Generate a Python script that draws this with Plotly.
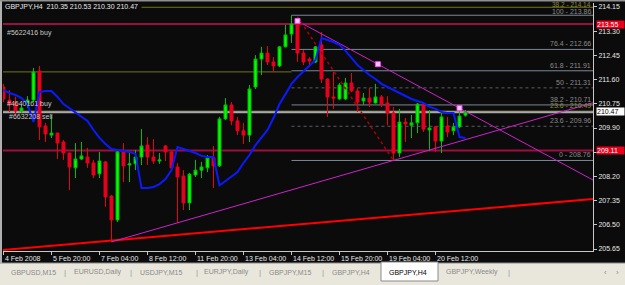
import plotly.graph_objects as go

W, H = 625, 285

# ---------------- data ----------------
bars = list(range(78))
opens = [211.34, 210.88, 210.78, 210.50, 210.74, 210.88, 211.90, 209.97, 209.65, 209.72,
         209.41, 209.02, 208.50, 208.81, 208.88, 208.67, 208.29, 208.71, 207.51, 206.67,
         209.06, 208.60, 208.64, 208.88, 209.30, 208.88, 208.74, 209.27, 209.06, 208.53,
         208.21, 207.27, 208.25, 208.42, 208.50, 208.85, 208.57, 210.22, 210.71, 210.15,
         209.80, 209.65, 211.34, 212.32, 212.53, 212.22, 212.08, 212.75, 213.20, 213.59,
         212.53, 212.32, 212.22, 212.82, 211.62, 210.99, 210.92, 210.92, 211.48, 211.20,
         210.85, 210.95, 210.78, 210.99, 210.78, 210.43, 209.02, 210.11, 210.00, 210.08,
         210.74, 209.83, 209.94, 209.44, 209.97, 209.80, 209.94, 210.35]
highs = [211.45, 211.23, 211.00, 210.74, 211.02, 212.01, 212.08, 210.08, 210.36, 209.74,
         209.48, 209.04, 209.37, 209.41, 209.20, 208.78, 209.06, 208.73, 207.55, 209.13,
         209.37, 209.02, 209.13, 209.86, 209.58, 209.51, 209.02, 209.30, 209.08, 208.67,
         208.42, 208.32, 208.78, 208.71, 208.95, 209.27, 210.29, 210.95, 210.81, 210.29,
         210.08, 211.41, 212.46, 212.75, 212.78, 212.39, 212.78, 213.52, 213.86, 213.73,
         212.64, 212.39, 212.78, 213.27, 211.64, 211.87, 211.48, 211.66, 211.83, 211.30,
         211.13, 211.30, 211.45, 211.06, 211.02, 210.64, 210.57, 210.25, 210.36, 210.78,
         210.78, 210.53, 209.96, 210.43, 210.29, 210.08, 210.64, 210.53]
lows = [210.81, 210.46, 210.32, 210.43, 210.60, 210.81, 209.48, 209.41, 209.55, 208.81,
        208.78, 207.72, 208.14, 208.78, 208.50, 208.14, 208.14, 207.13, 205.90, 206.60,
        208.00, 208.00, 208.42, 208.60, 208.60, 208.64, 208.64, 208.74, 208.42, 206.56,
        207.02, 207.02, 208.18, 208.14, 208.35, 207.79, 208.53, 210.18, 210.00, 209.65,
        209.34, 209.41, 211.27, 211.76, 212.11, 211.87, 212.04, 212.73, 212.89, 212.22,
        212.11, 212.11, 212.18, 211.48, 210.29, 210.57, 210.88, 210.88, 211.16, 210.46,
        210.71, 210.64, 210.76, 210.64, 210.00, 208.76, 208.88, 209.41, 209.55, 209.72,
        209.76, 209.09, 209.06, 209.02, 209.58, 209.65, 209.90, 210.30]
closes = [210.92, 210.71, 210.50, 210.60, 210.88, 211.87, 209.94, 209.69, 209.72, 209.37,
          209.02, 208.53, 208.81, 208.92, 208.67, 208.25, 208.74, 207.48, 206.67, 209.06,
          208.57, 208.64, 208.88, 209.27, 208.88, 208.74, 208.78, 209.06, 208.50, 208.18,
          207.27, 208.28, 208.42, 208.53, 208.85, 208.57, 210.22, 210.71, 210.15, 209.80,
          209.65, 211.27, 212.32, 212.53, 212.22, 212.08, 212.75, 213.17, 213.55, 212.53,
          212.22, 212.25, 212.75, 211.62, 210.99, 210.95, 211.41, 211.48, 211.20, 210.81,
          210.95, 210.81, 210.99, 210.74, 210.43, 209.02, 210.11, 210.04, 210.08, 210.74,
          209.86, 209.90, 209.44, 210.29, 209.76, 209.94, 210.32, 210.47]
ma_values = [211.23, 211.13, 211.06, 210.95, 210.74, 210.11, 211.16, 211.20, 211.20, 210.99,
             210.74, 210.60, 210.46, 210.32, 210.15, 209.83, 209.55, 209.34, 209.16, 209.13,
             209.09, 209.06, 208.99, 207.79, 207.79, 207.83, 207.93, 208.11, 208.42, 209.23,
             209.16, 209.09, 209.02, 208.92, 208.88, 208.88, 207.89, 208.04, 208.18, 208.35,
             208.67, 208.95, 209.30, 209.55, 209.83, 210.25, 210.74, 211.09, 211.45, 211.69,
             211.90, 212.08, 212.29, 213.06, 212.99, 212.92, 212.82, 212.61, 212.36, 212.11,
             211.94, 211.76, 211.62, 211.45, 211.34, 211.23, 211.13, 211.02, 210.92, 210.85,
             210.78, 210.64, 210.57, 210.46, 210.43, 210.43, 209.58, 209.55]

time_tick_bars = [0, 8, 16, 24, 32, 40, 48, 56, 64, 72]
time_tick_labels = ["4 Feb 2008", "5 Feb 20:00", "7 Feb 04:00", "8 Feb 12:00", "11 Feb 20:00",
                    "13 Feb 04:00", "14 Feb 12:00", "15 Feb 20:00", "19 Feb 04:00", "20 Feb 12:00"]
price_ticks = [205.65, 206.50, 207.35, 208.20, 209.05, 209.90, 210.75, 211.60, 212.45, 213.30, 214.15]
hidden_ticks = [209.05]   # covered by the 209.11 order box in the reference

fib_levels = ["100", "76.4", "61.8", "50", "38.2", "23.6", "0"]
fib_prices = [213.86, 212.66, 211.91, 211.31, 210.71, 209.96, 208.76]
fib_dotted = [False, False, False, True, False, True, False]
fib_start_bar = 48
fib_diag_bars = [49, 65]
fib_diag_prices = [213.80, 208.76]

olive_levels = ["38.2", "23.6"]
olive_prices = [214.14, 210.49]
olive_mid_price = 211.87

order_lines = [213.55, 209.11]
bid_price = 210.47

res_k = [49, 62.4]; res_p = [213.66, 212.14]      # falling trend line anchors
sup_k = [18, 59.4]; sup_p = [205.90, 208.42]      # rising trend line anchors
red_k = [0, 98]; red_p = [205.62, 207.40]         # long red trend line anchors

orders = [("#5622416 buy", 213.24, 0.3), ("#4640161 buy", 210.76, 0.3), ("#6632208 sell", 210.29, 0.6)]

tabs = [("GBPUSD,M15", 10), ("EURUSD,Daily", 73), ("USDJPY,M15", 139), ("EURJPY,Daily", 203),
        ("GBPJPY,M15", 268), ("GBPJPY,H4", 331), ("GBPJPY,Weekly", 445)]
active_tab = ("GBPJPY,H4", 388)
tab_seps = [65, 131, 197, 260, 323, 509]

# ---------------- layout geometry ----------------
X0, X1 = -0.083, 98.25
Y0, Y1 = 205.58, 214.29
FONT = "Liberation Sans"
BG = "#0b0b0b"


def line_at(ks, ps, k):
    slope = (ps[1] - ps[0]) / (ks[1] - ks[0])
    return ps[0] + slope * (k - ks[0])


fig = go.Figure()

shapes = []
shapes.append(dict(type="line", xref="x", yref="y", x0=23, x1=X1, y0=olive_prices[0], y1=olive_prices[0],
                   line=dict(color="#74741c", width=1), layer="below"))
shapes.append(dict(type="line", xref="x", yref="y", x0=X0, x1=fib_start_bar, y0=olive_mid_price, y1=olive_mid_price,
                   line=dict(color="#74741c", width=1), layer="below"))
for lp in order_lines:
    shapes.append(dict(type="line", xref="x domain", yref="y", x0=0, x1=1, y0=lp, y1=lp,
                       line=dict(color="#9a1040", width=2), layer="below"))
shapes.append(dict(type="line", xref="x domain", yref="y", x0=0, x1=1, y0=olive_prices[1], y1=olive_prices[1],
                   line=dict(color="#8c8c50", width=1), layer="below"))
shapes.append(dict(type="line", xref="x domain", yref="y", x0=0, x1=1, y0=bid_price - 0.02, y1=bid_price - 0.02,
                   line=dict(color="#a8a8a8", width=2), layer="below"))
for fp, dot in zip(fib_prices, fib_dotted):
    shapes.append(dict(type="line", xref="x", yref="y", x0=fib_start_bar, x1=X1, y0=fp, y1=fp,
                       line=dict(color="#5c5c66" if dot else "#7d8896", width=1, dash="dot" if dot else "solid"),
                       layer="below"))
# tab bar
shapes.append(dict(type="rect", xref="paper", yref="paper", x0=0, x1=1, y0=0, y1=22 / H,
                   fillcolor="#e9e7dc", line=dict(width=0), layer="above"))
shapes.append(dict(type="line", xref="paper", yref="paper", x0=0, x1=1, y0=22 / H, y1=22 / H,
                   line=dict(color="#8a8a8a", width=1)))
shapes.append(dict(type="rect", xref="paper", yref="paper", x0=381 / W, x1=438 / W, y0=4 / H, y1=23 / H,
                   fillcolor="#ffffff", line=dict(color="#8a8a8a", width=1)))
# window border
shapes.append(dict(type="rect", xref="paper", yref="paper", x0=0, x1=2 / W, y0=22 / H, y1=1,
                   fillcolor="#b0b0b0", line=dict(width=0)))
shapes.append(dict(type="rect", xref="paper", yref="paper", x0=0, x1=1, y0=1 - 1.5 / H, y1=1,
                   fillcolor="#909090", line=dict(width=0)))

fig.add_trace(go.Candlestick(
    x=bars, open=opens, high=highs, low=lows, close=closes,
    increasing=dict(line=dict(color="#00c000", width=1), fillcolor="#00ff00"),
    decreasing=dict(line=dict(color="#e8001c", width=1), fillcolor="#e8001c"),
    hoverinfo="skip", showlegend=False))

# trend lines
fig.add_trace(go.Scatter(x=[X0, X1], y=[line_at(red_k, red_p, X0), line_at(red_k, red_p, X1)],
                         mode="lines", line=dict(color="#ff0000", width=2), hoverinfo="skip"))
fig.add_trace(go.Scatter(x=[sup_k[0], X1], y=[sup_p[0], line_at(sup_k, sup_p, X1)],
                         mode="lines", line=dict(color="#cc22cc", width=1), hoverinfo="skip"))
fig.add_trace(go.Scatter(x=[res_k[0], X1], y=[res_p[0], line_at(res_k, res_p, X1)],
                         mode="lines", line=dict(color="#cc22cc", width=1), hoverinfo="skip"))
fig.add_trace(go.Scatter(x=fib_diag_bars, y=fib_diag_prices, mode="lines",
                         line=dict(color="#b00000", width=1.5, dash="dot"), hoverinfo="skip"))
# moving average
fig.add_trace(go.Scatter(x=bars, y=ma_values, mode="lines", line=dict(color="#0a1aff", width=2), hoverinfo="skip"))
# anchor markers
mk = [res_k[0], res_k[1], 76]
mp = [line_at(res_k, res_p, k) for k in mk]
fig.add_trace(go.Scatter(x=mk, y=mp, mode="markers",
                         marker=dict(symbol="square", size=5, color="#ffc8ff", line=dict(color="#ff40ff", width=1)),
                         hoverinfo="skip"))

ann = []
ann.append(dict(xref="paper", yref="paper", x=4 / W, y=1 - 7 / H, xanchor="left", yanchor="middle",
                text="GBPJPY,H4  210.35 210.53 210.30 210.47", showarrow=False, bgcolor=BG, borderpad=0,
                font=dict(family=FONT, size=7, color="#e8e8e8")))
for txt, pr, kx in orders:
    ann.append(dict(xref="x", yref="y", x=kx, y=pr, xanchor="left", yanchor="middle", text=txt,
                    showarrow=False, font=dict(family=FONT, size=7, color="#c8c8c8")))
for lv, fp in zip(fib_levels, fib_prices):
    ann.append(dict(xref="x domain", yref="y", x=1, y=fp, xanchor="right", yanchor="bottom", xshift=-1,
                    yshift=-1 if lv == "100" else 1,
                    text=f"{lv} - {fp:.2f}", showarrow=False, borderpad=0,
                    font=dict(family=FONT, size=7, color="#8c8c8c")))
# olive fib labels: top one sits at the very top edge, other just above its line
ann.append(dict(xref="x domain", yref="paper", x=1, y=1, xanchor="right", yanchor="top", xshift=-1,
                text=f"{olive_levels[0]} - {olive_prices[0]:.2f}", showarrow=False, borderpad=0,
                font=dict(family=FONT, size=6.5, color="#8c8c3c")))
ann.append(dict(xref="x domain", yref="y", x=1, y=olive_prices[1], xanchor="right", yanchor="bottom", xshift=-1,
                yshift=1, text=f"{olive_levels[1]} - {olive_prices[1]:.2f}", showarrow=False, borderpad=0,
                font=dict(family=FONT, size=7, color="#8c8c3c")))
# right-side price boxes
for pr, bg, fg in [(order_lines[0], "#e8001c", "#ffffff"), (bid_price, "#ffffff", "#000000"),
                   (order_lines[1], "#e8001c", "#ffffff")]:
    ann.append(dict(xref="paper", yref="y", x=596 / W, y=pr, xanchor="left", yanchor="middle",
                    text=f"{pr:.2f}", showarrow=False, bgcolor=bg, borderpad=0, width=27, align="left",
                    font=dict(family=FONT, size=7, color=fg)))
# time labels
for kb, lab in zip(time_tick_bars, time_tick_labels):
    ann.append(dict(xref="x", yref="paper", x=kb, y=(H - 258) / H, xanchor="left", yanchor="middle",
                    text=lab, showarrow=False, borderpad=0, font=dict(family=FONT, size=7, color="#e8e8e8")))
# tabs
for txt, px in tabs:
    ann.append(dict(xref="paper", yref="paper", x=px / W, y=(H - 272) / H, xanchor="left", yanchor="middle",
                    text=txt, showarrow=False, borderpad=0, font=dict(family=FONT, size=7, color="#8a8a8a")))
ann.append(dict(xref="paper", yref="paper", x=active_tab[1] / W, y=(H - 272) / H, xanchor="left", yanchor="middle",
                text=active_tab[0], showarrow=False, borderpad=0, font=dict(family=FONT, size=7, color="#000000")))
for sx_ in tab_seps:
    ann.append(dict(xref="paper", yref="paper", x=sx_ / W, y=(H - 272) / H, xanchor="center", yanchor="middle",
                    text="|", showarrow=False, borderpad=0, font=dict(family=FONT, size=8, color="#9a9a9a")))
for ch, px in [("‹", 605), ("›", 617)]:
    ann.append(dict(xref="paper", yref="paper", x=px / W, y=(H - 272) / H, xanchor="center", yanchor="middle",
                    text=ch, showarrow=False, borderpad=0, font=dict(family=FONT, size=8, color="#8a8a8a")))

fig.update_layout(
    width=W, height=H, margin=dict(l=0, r=0, t=0, b=0),
    paper_bgcolor=BG, plot_bgcolor=BG, showlegend=False, hovermode=False,
    shapes=shapes, annotations=ann,
    xaxis=dict(domain=[3 / W, 593 / W], range=[X0, X1], showgrid=False, zeroline=False,
               rangeslider=dict(visible=False), tickvals=time_tick_bars, showticklabels=False,
               ticks="outside", ticklen=3, tickcolor="#c8c8c8", showline=True, linecolor="#c8c8c8", linewidth=1),
    yaxis=dict(domain=[34 / H, 282 / H], range=[Y0, Y1], side="right", showgrid=False, zeroline=False,
               tickvals=price_ticks,
               ticktext=["" if p in hidden_ticks else f"{p:.2f}" for p in price_ticks],
               ticks="outside", ticklen=3, tickcolor="#c8c8c8", showline=True, linecolor="#c8c8c8", linewidth=1,
               tickfont=dict(family=FONT, size=7, color="#e8e8e8")),
)

fig.write_html("out.html")
